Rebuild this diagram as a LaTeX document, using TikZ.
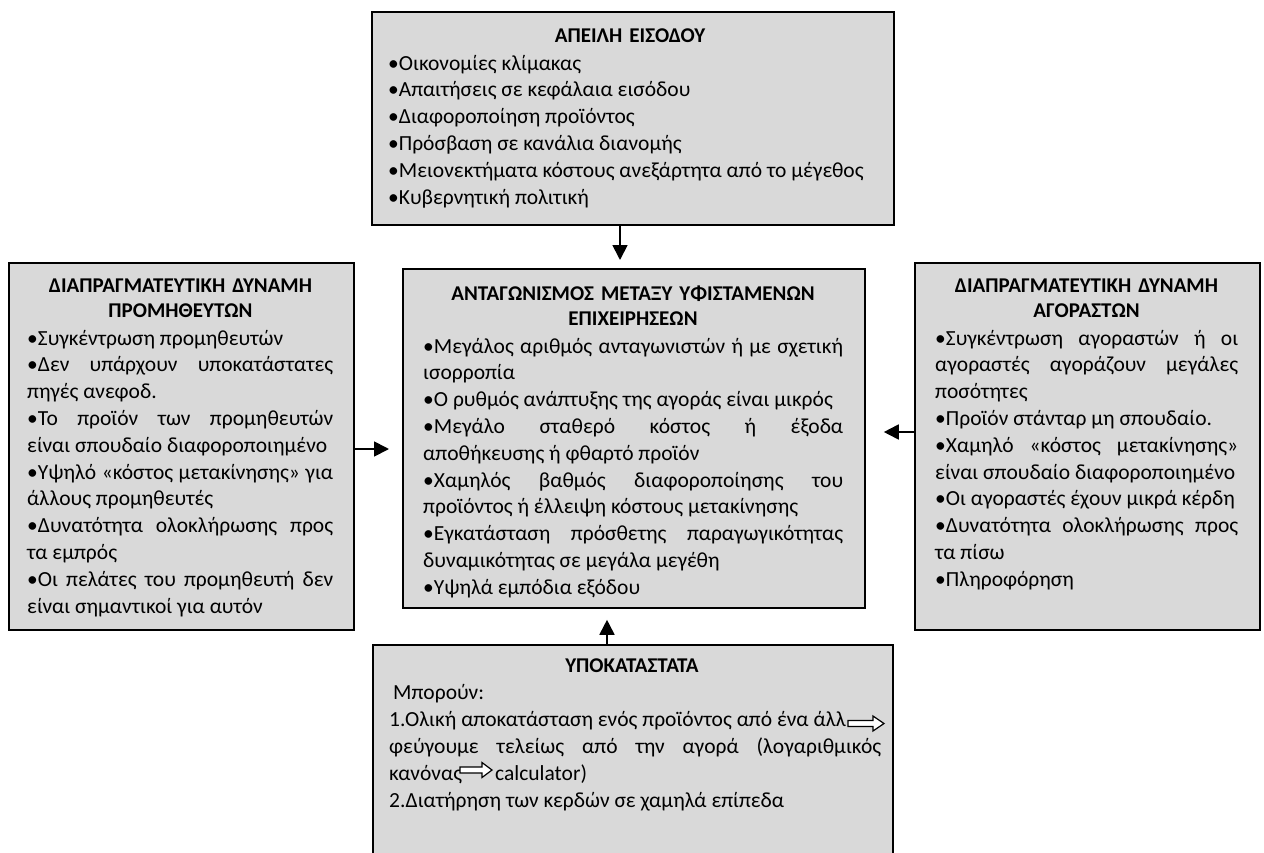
\documentclass[tikz,border=0pt]{standalone}
\usepackage{fontspec}
\setmainfont{Carlito}
\usetikzlibrary{arrows.meta}
\definecolor{boxgray}{RGB}{217,217,217}
\newcommand\natsp{\spaceskip=0pt\xspaceskip=0pt\relax}
\newcommand\jline[1]{\makebox[\hsize][s]{\natsp #1}}
\begin{document}
\begin{tikzpicture}[x=1pt,y=-1pt,
  box/.style={draw=black, line width=1.8pt, fill=boxgray, rectangle, inner sep=0pt, anchor=north west},
  body/.style={inner sep=0pt, anchor=base west, align=left, font=\fontsize{21.5}{26.8}\selectfont},
  ttl/.style={inner sep=0pt, anchor=base, align=center, text width=440pt, font=\bfseries\fontsize{21}{25}\selectfont},
  conn/.style={line width=1.8pt, -{Triangle[length=15pt,width=15pt]}},
  blockarrow/.style={draw=black, line width=1.2pt, fill=white}]
\useasboundingbox (0,0) rectangle (1264,852);
% boxes
\node[box, minimum width=522pt, minimum height=213pt] (top) at (371,11) {};
\node[box, minimum width=462pt, minimum height=339pt] (mid) at (402,268) {};
\node[box, minimum width=345pt, minimum height=367pt] (left) at (8,262) {};
\node[box, minimum width=345pt, minimum height=367pt] (right) at (914,262) {};
\node[box, minimum width=520pt, minimum height=240pt] (bot) at (372,644) {};
% top box
\node[ttl] (toptitle) at (630,42) {ΑΠΕΙΛΗ ΕΙΣΟΔΟΥ};
\node[body, text width=490pt] (topbody) at (388,70) {\natsp •Οικονομίες κλίμακας\\
•Απαιτήσεις σε κεφάλαια εισόδου\\
•Διαφοροποίηση προϊόντος\\
•Πρόσβαση σε κανάλια διανομής\\
•Μειονεκτήματα κόστους ανεξάρτητα από το μέγεθος\\
•Κυβερνητική πολιτική};
% middle box
\node[ttl] (midtitle) at (633,300) {ΑΝΤΑΓΩΝΙΣΜΟΣ ΜΕΤΑΞΥ ΥΦΙΣΤΑΜΕΝΩΝ\\ ΕΠΙΧΕΙΡΗΣΕΩΝ};
\node[body, text width=420pt] (midbody) at (423,353) {\natsp\jline{•Μεγάλος αριθμός ανταγωνιστών ή με σχετική}\\
ισορροπία\\
•Ο ρυθμός ανάπτυξης της αγοράς είναι μικρός\\
\jline{•Μεγάλο σταθερό κόστος ή έξοδα}\\
αποθήκευσης ή φθαρτό προϊόν\\
\jline{•Χαμηλός βαθμός διαφοροποίησης του}\\
προϊόντος ή έλλειψη κόστους μετακίνησης\\
\jline{•Εγκατάσταση πρόσθετης παραγωγικότητας}\\
δυναμικότητας σε μεγάλα μεγέθη\\
•Υψηλά εμπόδια εξόδου};
% left box
\node[ttl, text width=330pt] (lefttitle) at (180.5,292) {ΔΙΑΠΡΑΓΜΑΤΕΥΤΙΚΗ ΔΥΝΑΜΗ\\ ΠΡΟΜΗΘΕΥΤΩΝ};
\node[body, text width=306pt] (leftbody) at (27,345) {\natsp •Συγκέντρωση προμηθευτών\\
\jline{•Δεν υπάρχουν υποκατάστατες}\\
πηγές ανεφοδ.\\
\jline{•Το προϊόν των προμηθευτών}\\
είναι σπουδαίο διαφοροποιημένο\\
\jline{•Υψηλό «κόστος μετακίνησης» για}\\
άλλους προμηθευτές\\
\jline{•Δυνατότητα ολοκλήρωσης προς}\\
τα εμπρός\\
\jline{•Οι πελάτες του προμηθευτή δεν}\\
είναι σημαντικοί για αυτόν};
% right box
\node[ttl, text width=330pt] (righttitle) at (1086.5,292) {ΔΙΑΠΡΑΓΜΑΤΕΥΤΙΚΗ ΔΥΝΑΜΗ\\ ΑΓΟΡΑΣΤΩΝ};
\node[body, text width=303pt] (rightbody) at (935,345) {\natsp\jline{•Συγκέντρωση αγοραστών ή οι}\\
\jline{αγοραστές αγοράζουν μεγάλες}\\
ποσότητες\\
•Προϊόν στάνταρ μη σπουδαίο.\\
\jline{•Χαμηλό «κόστος μετακίνησης»}\\
είναι σπουδαίο διαφοροποιημένο\\
•Οι αγοραστές έχουν μικρά κέρδη\\
\jline{•Δυνατότητα ολοκλήρωσης προς}\\
τα πίσω\\
•Πληροφόρηση};
% bottom box
\node[ttl] (bottitle) at (632,672) {ΥΠΟΚΑΤΑΣΤΑΤΑ};
\node[body, text width=492pt, font=\fontsize{21.5}{27}\selectfont] (botbody) at (389,699) {\natsp\hspace{4pt}Μπορούν:\\
1.Ολική αποκατάσταση ενός προϊόντος από ένα άλλ\\
\jline{φεύγουμε τελείως από την αγορά (λογαριθμικός}\\
κανόνας\hspace{33pt}calculator)\\
2.Διατήρηση των κερδών σε χαμηλά επίπεδα};
\draw[blockarrow] (848,720.5) -- (873,720.5) -- (873,716) -- (884,723.5) -- (873,731) -- (873,726.5) -- (848,726.5) -- cycle;
\draw[blockarrow] (460,767) -- (482,767) -- (482,762.5) -- (492,770) -- (482,777.5) -- (482,773) -- (460,773) -- cycle;
% connectors
\draw[conn, shorten >=8pt] (620,0 |- top.south) -- (620,0 |- mid.north);
\draw[conn, shorten >=13pt] (left.east |- 0,449) -- (mid.west |- 0,449);
\draw[conn, shorten >=18pt] (right.west |- 0,432) -- (mid.east |- 0,432);
\draw[conn, shorten >=11pt] (607,0 |- bot.north) -- (607,0 |- mid.south);
\end{tikzpicture}
\end{document}
